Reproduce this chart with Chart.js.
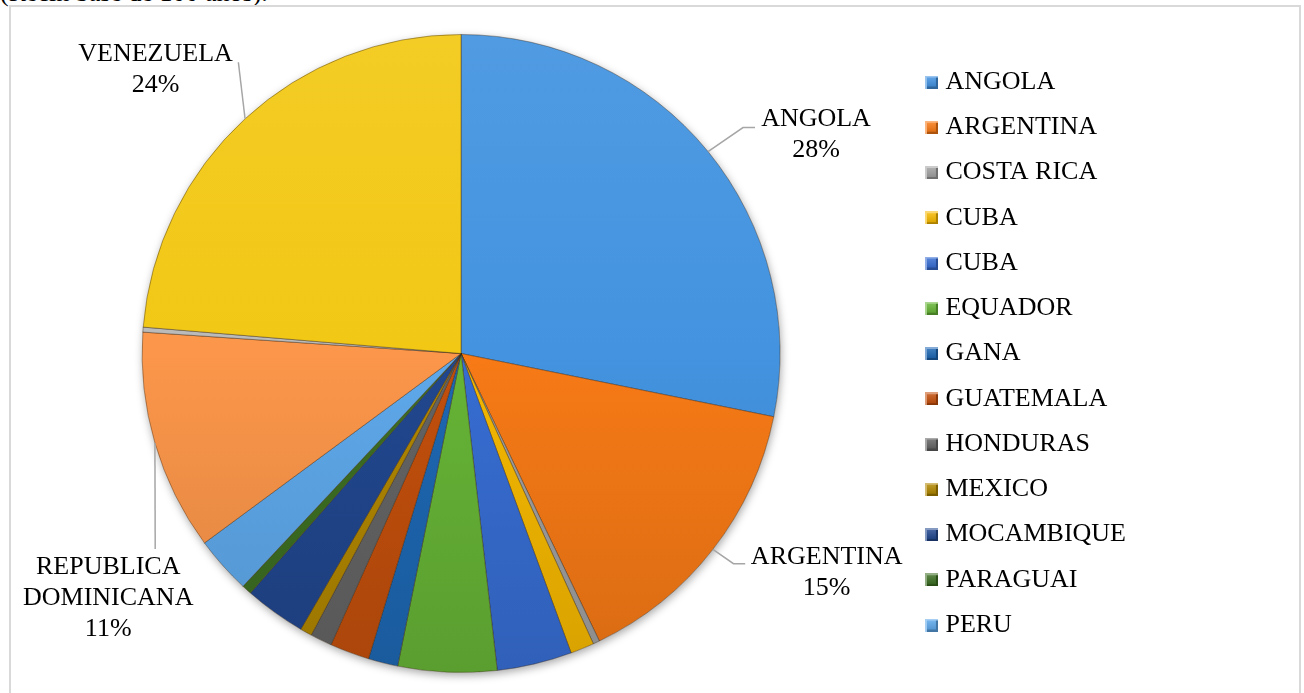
<!DOCTYPE html>
<html>
<head>
<meta charset="utf-8">
<script src="https://cdn.jsdelivr.net/npm/chart.js@4/dist/chart.umd.min.js"></script>
<style>
html,body{margin:0;padding:0;background:#fff;width:1304px;height:693px;overflow:hidden;}
#top{position:absolute;left:0;top:-20.5px;font:26px/26px "Liberation Serif","Times New Roman",serif;white-space:nowrap;color:#000;}
#frame{position:absolute;left:9px;top:5px;width:1292px;height:720px;border:2px solid #d9d9d9;box-sizing:border-box;}
#wrap{position:absolute;left:0;top:0;width:1304px;height:693px;}
</style>
</head>
<body>
<div id="top">(Recin base de 100 anos).</div>
<div id="frame"></div>
<div id="wrap"><canvas id="c"></canvas></div>
<script>
const countries = ['ANGOLA','ARGENTINA','COSTA RICA','CUBA','CUBA','EQUADOR','GANA','GUATEMALA','HONDURAS','MEXICO','MOCAMBIQUE','PARAGUAI','PERU','REPUBLICA DOMINICANA','URUGUAI','VENEZUELA'];
const shares = [28.2,14.7,0.33,1.2,3.8,5.0,1.5,2.0,1.1,0.6,3.1,0.5,2.9,11.2,0.25,23.7];
const pieColors = ['#4393e0','#f77a16','#a0a0a0','#f5b800','#376dd2','#66b436','#1d67b2','#c24f0c','#646464','#b08600','#21478e','#3c6e22','#5ea8ea','#fb964a','#bababa','#f2c815'];
const legendCount = 13;

function hexToRgb(h){h=h.replace('#','');return [parseInt(h.substr(0,2),16),parseInt(h.substr(2,2),16),parseInt(h.substr(4,2),16)];}
function shade(h,f){const c=hexToRgb(h);const r=c.map(v=>Math.round(f>=0? v+(255-v)*f : v*(1+f)));return 'rgb('+r.join(',')+')';}

const markers = pieColors.map(col=>{
  const cv=document.createElement('canvas');cv.width=13;cv.height=13;
  const g=cv.getContext('2d');
  g.fillStyle=col;g.fillRect(0,0,13,13);
  g.fillStyle=shade(col,-0.3);g.fillRect(0,11,13,2);g.fillRect(11,0,2,13);
  g.fillStyle=shade(col,0.45);g.fillRect(0,0,13,2);g.fillRect(0,0,2,13);
  const gr=g.createLinearGradient(0,2,0,11);
  gr.addColorStop(0,shade(col,0.15));gr.addColorStop(1,shade(col,-0.1));
  g.fillStyle=gr;g.fillRect(2,2,9,9);
  return cv;
});

const shadowPlugin = {
  id:'pieShadow',
  beforeDatasetsDraw(chart){
    const arc=chart.getDatasetMeta(0).data[0]; if(!arc) return;
    const ctx=chart.ctx; ctx.save();
    ctx.shadowColor='rgba(0,0,0,0.35)'; ctx.shadowBlur=9; ctx.shadowOffsetX=1; ctx.shadowOffsetY=3;
    ctx.fillStyle='#ffffff'; ctx.beginPath(); ctx.arc(arc.x,arc.y,arc.outerRadius,0,Math.PI*2); ctx.fill();
    ctx.restore();
  }
};

const leaderPlugin = {
  id:'leaders',
  afterDatasetsDraw(chart,args,opts){
    const ctx=chart.ctx, meta=chart.getDatasetMeta(0), data=chart.data.datasets[0].data;
    const total=data.reduce((a,b)=>a+b,0);
    ctx.save();
    opts.items.forEach(it=>{
      const p=meta.data[it.index].getProps(['x','y','startAngle','endAngle','outerRadius'],true);
      const mid=(p.startAngle+p.endAngle)/2;
      const ex=p.x+Math.cos(mid)*p.outerRadius, ey=p.y+Math.sin(mid)*p.outerRadius;
      ctx.strokeStyle=opts.lineColor; ctx.lineWidth=opts.lineWidth;
      ctx.beginPath(); ctx.moveTo(ex,ey); ctx.lineTo(ex+it.elbow[0],ey+it.elbow[1]); ctx.lineTo(ex+it.end[0],ey+it.end[1]); ctx.stroke();
      const lines=chart.data.labels[it.index].split(' ');
      lines.push(Math.round(data[it.index]/total*100)+'%');
      ctx.fillStyle=opts.color; ctx.font=opts.font; ctx.textAlign='center'; ctx.textBaseline='middle';
      lines.forEach((s,i)=>ctx.fillText(s,ex+it.text[0],ey+it.text[1]+i*opts.lineHeight));
    });
    ctx.restore();
  }
};

new Chart(document.getElementById('c'),{
  type:'pie',
  data:{
    labels:countries,
    datasets:[{
      data:shares,
      backgroundColor:(c)=>{
        const base=pieColors[c.dataIndex]; const a=c.chart.chartArea;
        if(!a) return base;
        const g=c.chart.ctx.createLinearGradient(0,a.top,0,a.bottom);
        g.addColorStop(0,shade(base,0.07)); g.addColorStop(0.5,base); g.addColorStop(1,shade(base,-0.12));
        return g;
      },
      borderColor:'rgba(50,30,10,0.4)',
      borderWidth:1,
      hoverOffset:0
    }]
  },
  options:{
    responsive:true,
    maintainAspectRatio:false,
    animation:false,
    layout:{padding:{left:11,right:168,top:34,bottom:20}},
    plugins:{
      tooltip:{enabled:false},
      legend:{
        position:'right',
        align:'center',
        labels:{
          color:'#000',
          font:{family:'"Liberation Serif", "Times New Roman", serif',size:26},
          usePointStyle:true,
          pointStyleWidth:2,
          boxHeight:13,
          padding:19.25,
          filter:(item)=>item.index<legendCount,
          generateLabels:(chart)=>{
            const items=Chart.overrides.pie.plugins.legend.labels.generateLabels(chart);
            items.forEach(it=>{it.pointStyle=markers[it.index];});
            return items;
          }
        }
      },
      leaders:{
        color:'#000',
        font:'26px "Liberation Serif", "Times New Roman", serif',
        lineColor:'#a6a6a6',
        lineWidth:1.5,
        lineHeight:31,
        items:[
          {index:0, elbow:[35,-24], end:[47,-24], text:[108,-32.7]},
          {index:1, elbow:[20.6,14.3], end:[32.3,14.3], text:[113.8,7.7]},
          {index:13, elbow:[0.3,106], end:[0.3,106], text:[-46.7,124.5]},
          {index:15, elbow:[-6.7,-56.5], end:[-6.7,-56.5], text:[-89.5,-64.9]}
        ]
      }
    }
  },
  plugins:[shadowPlugin,leaderPlugin]
});
</script>
</body>
</html>
